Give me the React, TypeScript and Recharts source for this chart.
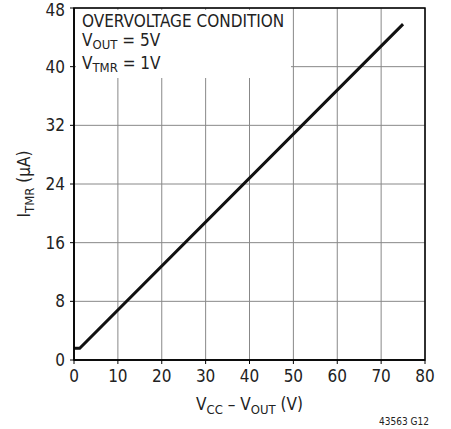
import React from 'react';
import { LineChart, Line, XAxis, YAxis, CartesianGrid, ReferenceArea } from 'recharts';

const vDiff = [0, 1.3, 75];
const iTmr = [1.6, 1.6, 45.8];
const xTicks = [0, 10, 20, 30, 40, 50, 60, 70, 80];
const yTicks = [0, 8, 16, 24, 32, 40, 48];

const data = vDiff.map((v, i) => ({ v, i: iTmr[i] }));

const FONT = "'Liberation Sans Narrow', 'Arial Narrow', 'DejaVu Sans Condensed', sans-serif";

const XLabel = (props: any) => {
  const { viewBox } = props;
  const cx = viewBox.x + viewBox.width / 2;
  const y = viewBox.y + 50;
  return (
    <text x={cx} y={y} textAnchor="middle" fontSize={17} fill="#222" fontFamily={FONT}>
      V<tspan fontSize={13} dy={4}>CC</tspan>
      <tspan dy={-4}> – V</tspan>
      <tspan fontSize={13} dy={4}>OUT</tspan>
      <tspan dy={-4}> (V)</tspan>
    </text>
  );
};

const YLabel = (props: any) => {
  const { viewBox } = props;
  const cy = viewBox.y + viewBox.height / 2;
  const x = 30;
  return (
    <text x={x} y={cy} transform={`rotate(-90 ${x} ${cy})`} textAnchor="middle" fontSize={17} fill="#222" fontFamily={FONT}>
      I<tspan fontSize={13} dy={4}>TMR</tspan>
      <tspan dy={-4}> (µA)</tspan>
    </text>
  );
};

export default function App() {
  const tick = { fontSize: 17, fill: '#222', fontFamily: FONT };
  return (
    <div style={{ position: 'absolute', left: 0, top: 0, width: 451, height: 429, background: '#fff' }}>
      <LineChart width={451} height={429} data={data} margin={{ top: 8, right: 26, bottom: 39, left: 0 }}>
        <CartesianGrid stroke="#888" strokeWidth={1} />
        <XAxis
          dataKey="v"
          type="number"
          domain={[0, 80]}
          ticks={xTicks}
          tick={tick}
          tickSize={4}
          tickMargin={6}
          height={30}
          axisLine={{ stroke: '#000', strokeWidth: 1.5 }}
          tickLine={{ stroke: '#000' }}
          label={<XLabel />}
        />
        <YAxis
          type="number"
          domain={[0, 48]}
          ticks={yTicks}
          width={74}
          tick={tick}
          tickSize={4}
          tickMargin={5}
          axisLine={{ stroke: '#000', strokeWidth: 1.5 }}
          tickLine={{ stroke: '#000' }}
          label={<YLabel />}
        />
        <ReferenceArea x1={0} x2={80} y1={0} y2={48} fill="none" stroke="#000" strokeWidth={1.5} ifOverflow="visible" />
        <Line dataKey="i" stroke="#111" strokeWidth={3} dot={false} isAnimationActive={false} />
      </LineChart>
      <div
        style={{
          position: 'absolute',
          left: 76,
          top: 10,
          width: 215,
          height: 68,
          background: '#fff',
          fontFamily: FONT,
          fontSize: 17,
          color: '#222',
          lineHeight: '19px',
          paddingLeft: 6,
          paddingTop: 2,
          boxSizing: 'border-box',
        }}
      >
        <div>OVERVOLTAGE CONDITION</div>
        <div>
          V<sub style={{ fontSize: 13, verticalAlign: '-3px' }}>OUT</sub> = 5V
        </div>
        <div>
          V<sub style={{ fontSize: 13, verticalAlign: '-3px' }}>TMR</sub> = 1V
        </div>
      </div>
      <div style={{ position: 'absolute', left: 379, top: 416, fontFamily: FONT, fontSize: 10, color: '#222' }}>
        43563 G12
      </div>
    </div>
  );
}
